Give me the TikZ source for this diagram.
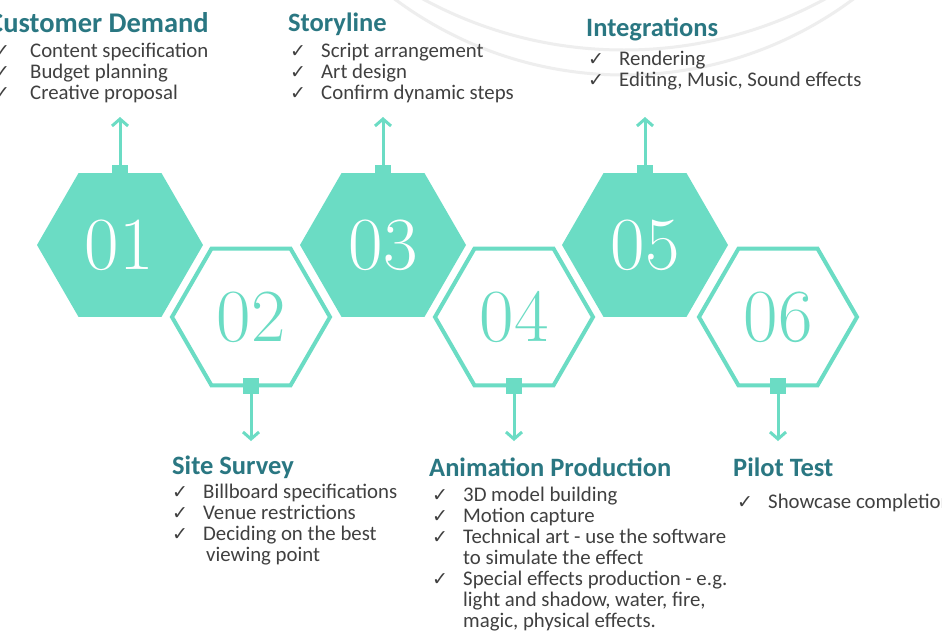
\documentclass[tikz,border=0pt]{standalone}
\usepackage{fontspec}
\newfontfamily\bodyfont{Carlito}
\newfontfamily\symfont{DejaVu Sans}
\usetikzlibrary{arrows.meta}

\definecolor{mint}{HTML}{6BDCC4}
\definecolor{headteal}{HTML}{2A7782}
\definecolor{bodygray}{HTML}{404040}
\definecolor{faintring}{HTML}{EEEEEE}

% check mark followed by the gap before the item text
\newcommand{\chk}{\makebox[31pt][l]{\symfont\fontsize{19}{19}\selectfont ✓}}
\newcommand{\cont}{\hspace*{31pt}}

\tikzset{
  filledhex/.style={fill=mint, draw=none},
  openhex/.style={draw=mint, line width=4pt, fill=white, line join=miter},
  numfilled/.style={text=white, font=\fontsize{75}{75}\selectfont, inner sep=0pt, anchor=base},
  numopen/.style={text=mint, font=\fontsize{75}{75}\selectfont, inner sep=0pt, anchor=base},
  tab/.style={fill=mint, minimum size=16pt, inner sep=0pt},
  link/.style={draw=mint, line width=3pt, -{Straight Barb[length=7pt,width=16pt]}},
  head/.style={font=\bodyfont\bfseries\fontsize{26.5}{26.5}\selectfont, text=headteal, anchor=base west, inner sep=0pt},
  items/.style={font=\bodyfont\fontsize{20.8}{21.1}\selectfont, text=bodygray, anchor=base west, inner sep=0pt},
}

\begin{document}
\begin{tikzpicture}[x=1pt,y=-1pt]
  \clip (0,0) rectangle (942,630);
  \fill[white] (0,0) rectangle (942,630);

  % faint background rings
  \draw[faintring, line width=3pt] (624,-309) circle[radius=384];
  \draw[faintring, line width=3pt] (624,-371) circle[radius=421];

  % hexagons: odd steps filled on the upper row, even steps outlined on the lower row
  \foreach \cx in {120,383,645}
    \fill[filledhex, shift={(\cx,245)}] (0:83) -- (60:83) -- (120:83) -- (180:83) -- (240:83) -- (300:83) -- cycle;
  \foreach \cx in {251,514,778}
    \draw[openhex, shift={(\cx,317)}] (0:79) -- (60:79) -- (120:79) -- (180:79) -- (240:79) -- (300:79) -- cycle;

  % step numbers
  \node[numfilled] (n1) at (119,269) {01};
  \node[numopen]   (n2) at (251,341) {02};
  \node[numfilled] (n3) at (383,269) {03};
  \node[numopen]   (n4) at (514,341) {04};
  \node[numfilled] (n5) at (645,269) {05};
  \node[numopen]   (n6) at (778,341) {06};

  % connector tabs on the hexagon edges
  \node[tab] (t1) at (120,173) {};
  \node[tab] (t2) at (251,386) {};
  \node[tab] (t3) at (383,173) {};
  \node[tab] (t4) at (514,386) {};
  \node[tab] (t5) at (645,173) {};
  \node[tab] (t6) at (778,386) {};

  \coordinate (e1) at (120,117);
  \coordinate (e3) at (383,117);
  \coordinate (e5) at (645,117);
  \coordinate (e2) at (251,441);
  \coordinate (e4) at (514,441);
  \coordinate (e6) at (778,441);

  \draw[link] (t1.center) -- (e1);
  \draw[link] (t3.center) -- (e3);
  \draw[link] (t5.center) -- (e5);
  \draw[link] (t2.center) -- (e2);
  \draw[link] (t4.center) -- (e4);
  \draw[link] (t6.center) -- (e6);

  % step descriptions
  \node[head, font=\bodyfont\bfseries\fontsize{28.5}{28.5}\selectfont] (h1) at (-12,32) {Customer Demand};
  \node[items] (l1) at (-6,57) {\begin{tabular}[t]{@{}l@{}}
    \chk\hspace*{5pt}Content specification\\
    \chk\hspace*{5pt}Budget planning\\
    \chk\hspace*{5pt}Creative proposal
  \end{tabular}};

  \node[head] (h3) at (288,31) {Storyline};
  \node[items] (l3) at (290,57) {\begin{tabular}[t]{@{}l@{}}
    \chk Script arrangement\\
    \chk Art design\\
    \chk Confirm dynamic steps
  \end{tabular}};

  \node[head] (h5) at (586,36) {Integrations};
  \node[items] (l5) at (588,65) {\begin{tabular}[t]{@{}l@{}}
    \chk Rendering\\
    \chk Editing, Music, Sound effects
  \end{tabular}};

  \node[head] (h2) at (172,474) {Site Survey};
  \node[items] (l2) at (172,498) {\begin{tabular}[t]{@{}l@{}}
    \chk Billboard specifications\\
    \chk Venue restrictions\\
    \chk Deciding on the best\\
    \cont\hspace*{3pt}viewing point
  \end{tabular}};

  \node[head] (h4) at (429,476) {Animation Production};
  \node[items] (l4) at (432,501) {\begin{tabular}[t]{@{}l@{}}
    \chk 3D model building\\
    \chk Motion capture\\
    \chk Technical art - use the software\\
    \cont to simulate the effect\\
    \chk Special effects production - e.g.\\
    \cont light and shadow, water, fire,\\
    \cont magic, physical effects.
  \end{tabular}};

  \node[head] (h6) at (733,476) {Pilot Test};
  \node[items] (l6) at (737,508) {\begin{tabular}[t]{@{}l@{}}
    \chk Showcase completion
  \end{tabular}};
\end{tikzpicture}
\end{document}
